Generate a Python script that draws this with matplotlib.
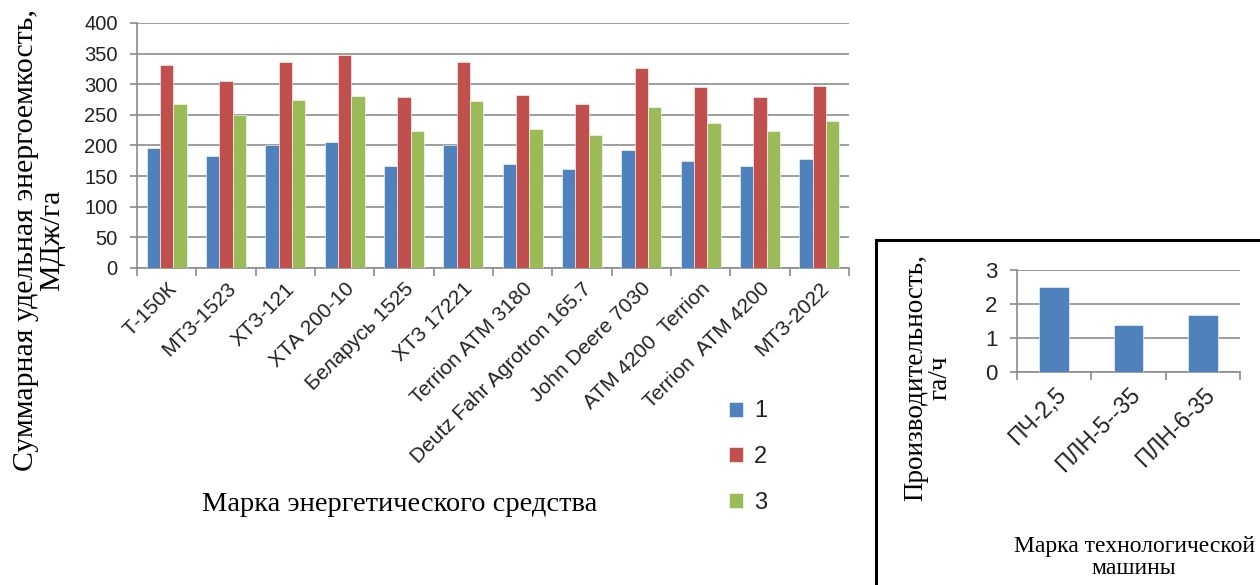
import matplotlib.pyplot as plt
from matplotlib.patches import Rectangle
import numpy as np

# Main chart data
machines = ['Т-150К', 'МТЗ-1523', 'ХТЗ-121', 'ХТА 200-10', 'Беларусь 1525', 'ХТЗ 17221',
            'Terrion ATM 3180', 'Deutz Fahr Agrotron 165.7', 'John Deere 7030',
            'ATM 4200  Terrion', 'Terrion  ATM 4200', 'МТЗ-2022']
series_1 = [196, 183, 201, 206, 167, 200, 170, 162, 193, 175, 167, 178]
series_2 = [332, 306, 337, 347, 279, 337, 282, 268, 326, 295, 279, 297]
series_3 = [268, 249, 274, 281, 224, 272, 227, 217, 263, 237, 224, 240]
series_names = ['1', '2', '3']

# Inset data
tools = ['ПЧ-2,5', 'ПЛН-5--35', 'ПЛН-6-35']
productivity = [2.5, 1.38, 1.67]

colors = ['#4F81BD', '#C0504D', '#9BBB59']
grid_c = '#8c8c8c'
serif = ['Liberation Serif', 'DejaVu Serif']
sans = ['Liberation Sans', 'DejaVu Sans']

fig = plt.figure(figsize=(12.6, 5.85), dpi=100, facecolor='white')


def style_axes(a, ylabsize):
    for s in ['top', 'right']:
        a.spines[s].set_visible(False)
    for s in ['left', 'bottom']:
        a.spines[s].set_color(grid_c)
        a.spines[s].set_linewidth(1.2)
    a.yaxis.grid(True, color=grid_c, linewidth=1.2, zorder=0)
    a.tick_params(axis='x', length=0, pad=8)
    a.tick_params(axis='x', which='minor', length=6, color=grid_c, width=1.2)
    a.tick_params(axis='y', length=5, color=grid_c, width=1.2, labelsize=ylabsize, pad=9)
    for t in a.get_yticklabels():
        t.set_family(sans)
        t.set_color('#222222')


# ---- main chart ----
ax = fig.add_axes([0.1087, 0.5419, 0.565, 0.4188])
x = np.arange(len(machines))
w = 0.225
for i, vals in enumerate([series_1, series_2, series_3]):
    ax.bar(x + (i - 1) * w, vals, width=w, color=colors[i], label=series_names[i],
           edgecolor='white', linewidth=0.4, zorder=3)

ax.set_xlim(-0.5, len(machines) - 0.5)
ax.set_ylim(0, 400)
ax.set_yticks(range(0, 401, 50))
ax.set_xticks(x)
ax.set_xticklabels(machines, rotation=45, ha='right', rotation_mode='anchor',
                   family=sans, fontsize=15, color='#222222')
ax.set_xticks(np.arange(-0.5, len(machines)), minor=True)
style_axes(ax, 14.5)

fig.text(0.031, 0.59, 'Суммарная удельная энергоемкость,\nМДж/га', rotation=90,
         ha='center', va='center', family=serif, fontsize=21.5, linespacing=1.05)
fig.text(0.317, 0.137, 'Марка энергетического средства', ha='center', va='center',
         family=serif, fontsize=20.5)

leg = ax.legend(loc='center left', bbox_to_anchor=(729 / 1260, 1 - 457 / 585),
                bbox_transform=fig.transFigure, frameon=False, borderpad=0,
                borderaxespad=0, handlelength=0.6, handleheight=0.6, handletextpad=0.45,
                labelspacing=1.0, prop={'family': sans, 'size': 17})
for t in leg.get_texts():
    t.set_color('#222222')

# ---- inset ----
fig.add_artist(Rectangle((876 / 1260, -0.01), 0.32, 1 - 240 / 585 + 0.01,
                         transform=fig.transFigure, fill=False, edgecolor='black',
                         linewidth=2.2))
ax2 = fig.add_axes([1017 / 1260, 1 - 372 / 585, 223 / 1260, 102 / 585])
ax2.bar(np.arange(len(tools)), productivity, width=0.4, color=colors[0],
        edgecolor='white', linewidth=0.4, zorder=3)
ax2.set_xlim(-0.5, len(tools) - 0.5)
ax2.set_ylim(0, 3)
ax2.set_yticks([0, 1, 2, 3])
ax2.set_xticks(np.arange(len(tools)))
ax2.set_xticklabels(tools, rotation=45, ha='right', rotation_mode='anchor',
                    family=sans, fontsize=16.5, color='#222222')
ax2.set_xticks(np.arange(-0.5, len(tools)), minor=True)
style_axes(ax2, 16)

fig.text(0.7365, 0.354, 'Производительность,\nга/ч', rotation=90, ha='center', va='center',
         family=serif, fontsize=19.5, linespacing=1.0)
fig.text(0.9, 0.047, 'Марка технологической\nмашины', ha='center', va='center',
         family=serif, fontsize=17, linespacing=1.05)

fig.savefig('out.png', dpi=100)
